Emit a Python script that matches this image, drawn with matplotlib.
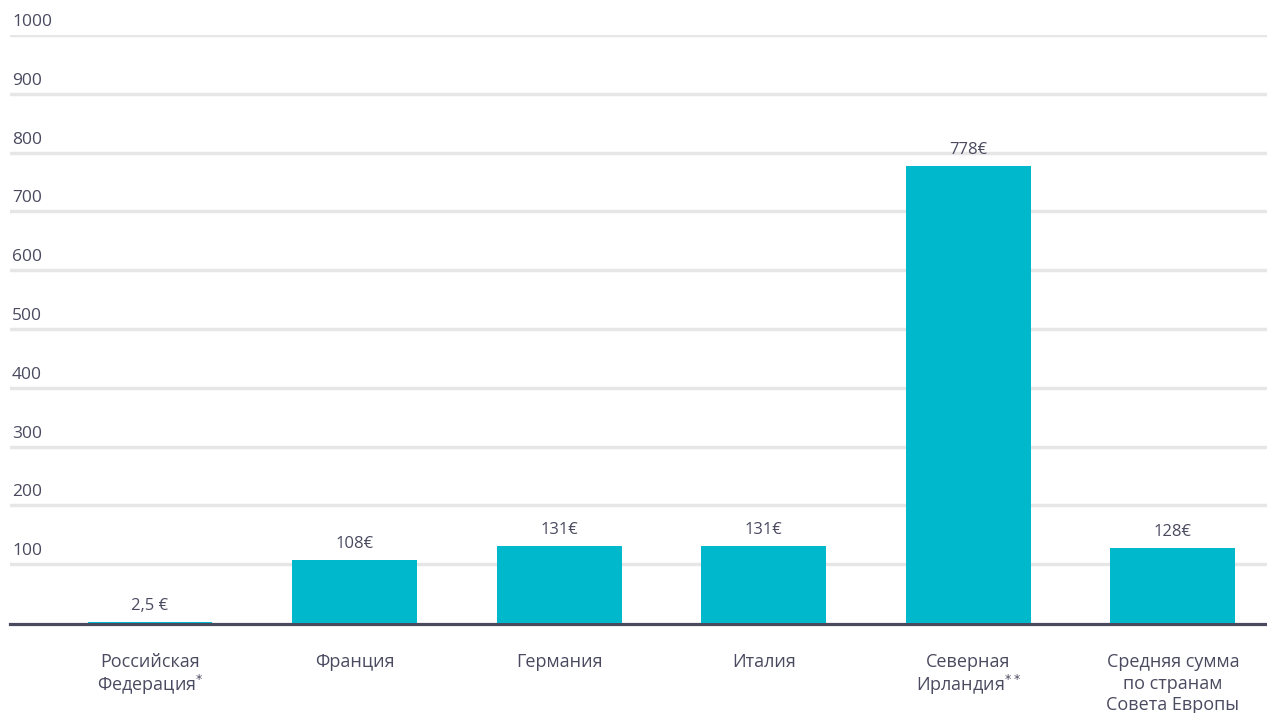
import matplotlib.pyplot as plt
import matplotlib.transforms as mtransforms
import numpy as np

plt.rcParams['font.family'] = ['Open Sans', 'DejaVu Sans']
plt.rcParams['mathtext.fontset'] = 'dejavusans'

categories = ["Российская\nФедерация$^{*}$", "Франция", "Германия", "Италия",
              "Северная\nИрландия$^{**}$", "Средняя сумма\nпо странам\nСовета Европы"]
values = [2.5, 108, 131, 131, 778, 128]
value_labels = ["2,5 €", "108€", "131€", "131€", "778€", "128€"]
y_ticks = [100, 200, 300, 400, 500, 600, 700, 800, 900, 1000]

bar_color = "#00b8cb"
text_color = "#4a4a60"
grid_color = "#e6e6e6"

fig = plt.figure(figsize=(12.67, 7.13), dpi=100)
ax = fig.add_axes([10/1267, 87.6/713, 1 - 10/1267, (625.4 - 35)/713])

x = np.arange(len(categories))
ax.bar(x, values, width=0.61, color=bar_color, zorder=5)

ax.set_xlim(-0.684, 5.46)
ax.set_ylim(-4, 1000)

# grid lines
for t in y_ticks:
    ax.axhline(t, color=grid_color, lw=2.5, zorder=1)
ax.axhline(-1.8, color="#4a4a5e", lw=2.3, zorder=4, clip_on=False)

# y labels sit above their grid lines
off = mtransforms.offset_copy(ax.get_yaxis_transform(), fig=fig, x=2, y=5, units='dots')
for t in y_ticks:
    ax.text(0, t, str(t), transform=off, ha='left', va='bottom',
            fontsize=12.5, color=text_color)

# value labels
voff = mtransforms.offset_copy(ax.transData, fig=fig, x=0, y=8, units='dots')
for xi, v, lab in zip(x, values, value_labels):
    ax.text(xi, v, lab, transform=voff, ha='center', va='bottom',
            fontsize=12, color=text_color)

ax.set_xticks(x)
ax.set_xticklabels(categories, fontsize=13, color=text_color, linespacing=1.25)
for lbl in ax.get_xticklabels():
    if '$' in lbl.get_text():
        lbl.set_linespacing(1.12)
ax.tick_params(axis='x', length=0, pad=20)
ax.set_yticks([])
for s in ax.spines.values():
    s.set_visible(False)

fig.savefig("out.png", dpi=100)
